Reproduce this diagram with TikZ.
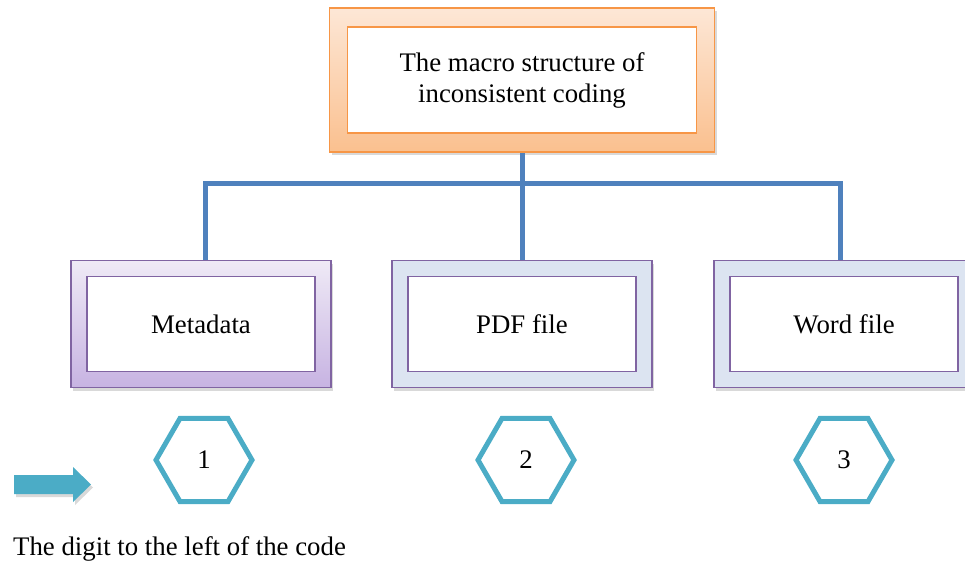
\documentclass[tikz,border=0pt]{standalone}
\usepackage{fontspec}
\setmainfont{Liberation Serif}
\usetikzlibrary{shapes.geometric,shadows}

\definecolor{linkblue}{HTML}{4F81BD}
\definecolor{hexblue}{HTML}{4BACC6}
\definecolor{orangeline}{HTML}{F79646}
\definecolor{orangetop}{HTML}{FDE7D6}
\definecolor{orangebot}{HTML}{FAC08F}
\definecolor{purpleline}{HTML}{8064A2}
\definecolor{lilactop}{HTML}{EFEAF6}
\definecolor{lilacbot}{HTML}{C7B3E2}
\definecolor{paleblue}{HTML}{DCE4F1}

\newcommand{\bigtxt}{\fontsize{26.8}{31}\selectfont}

\begin{document}
\begin{tikzpicture}[x=1pt, y=-1pt, >=stealth,
  frame/.style={line width=1.8pt, inner sep=0pt,
    drop shadow={shadow xshift=2pt, shadow yshift=-3pt, opacity=0.3}},
  lilacbox/.style={frame, draw=purpleline, top color=lilactop, bottom color=lilacbot},
  bluebox/.style={frame, draw=purpleline, fill=paleblue},
  card/.style={draw=purpleline, fill=white, line width=1.8pt, inner sep=0pt,
    minimum width=228pt, minimum height=95pt, font=\bigtxt},
  link/.style={linkblue, line width=5pt},
  badge/.style={regular polygon, regular polygon sides=6, draw=hexblue,
    line width=5pt, minimum size=96pt, inner sep=0pt, font=\bigtxt}]
  \useasboundingbox (0,0) rectangle (965,563);
  \clip (0,0) rectangle (965,563);

  % Root of the tree
  \node[frame, draw=orangeline, top color=orangetop, bottom color=orangebot,
        minimum width=385pt, minimum height=144pt] (root) at (522,80) {};
  \node[card, draw=orangeline, minimum width=349pt, minimum height=106pt,
        align=center] (roottext) at (522,80)
        {The macro structure of\\inconsistent coding};

  % The three kinds of file, outer frame then the inner card
  \foreach \x/\name/\look/\txt in {201/meta/lilacbox/Metadata,
                                  522/pdf/bluebox/PDF file,
                                  844/word/bluebox/Word file} {
    \node[\look, minimum width=260pt, minimum height=127pt] (\name) at (\x,324) {};
    \node[card] (\name text) at (\x,324) {\txt};
  }

  % Tree connectors
  \draw[link] (root.south) -- ++(0,31) coordinate (bus);
  \draw[link] ([xshift=4pt]meta.north) |- (bus) -| ([xshift=-4pt]word.north);
  \draw[link] (bus) -- (pdf.north);

  % Digits under each file
  \foreach \x/\n in {204/1, 526/2, 844/3}
    \node[badge] (digit\n) at (\x,460) {\n};

  % Legend: block arrow and its note
  \fill[hexblue, drop shadow={shadow xshift=2pt, shadow yshift=-3pt, opacity=0.3}]
    (14,475) -- (73,475) -- (73,467) -- (91,484.5) -- (73,502) -- (73,494)
    -- (14,494) -- cycle;
  \node[anchor=base west, inner sep=0pt, font=\bigtxt] (note) at (13,555)
    {The digit to the left of the code};
\end{tikzpicture}
\end{document}
